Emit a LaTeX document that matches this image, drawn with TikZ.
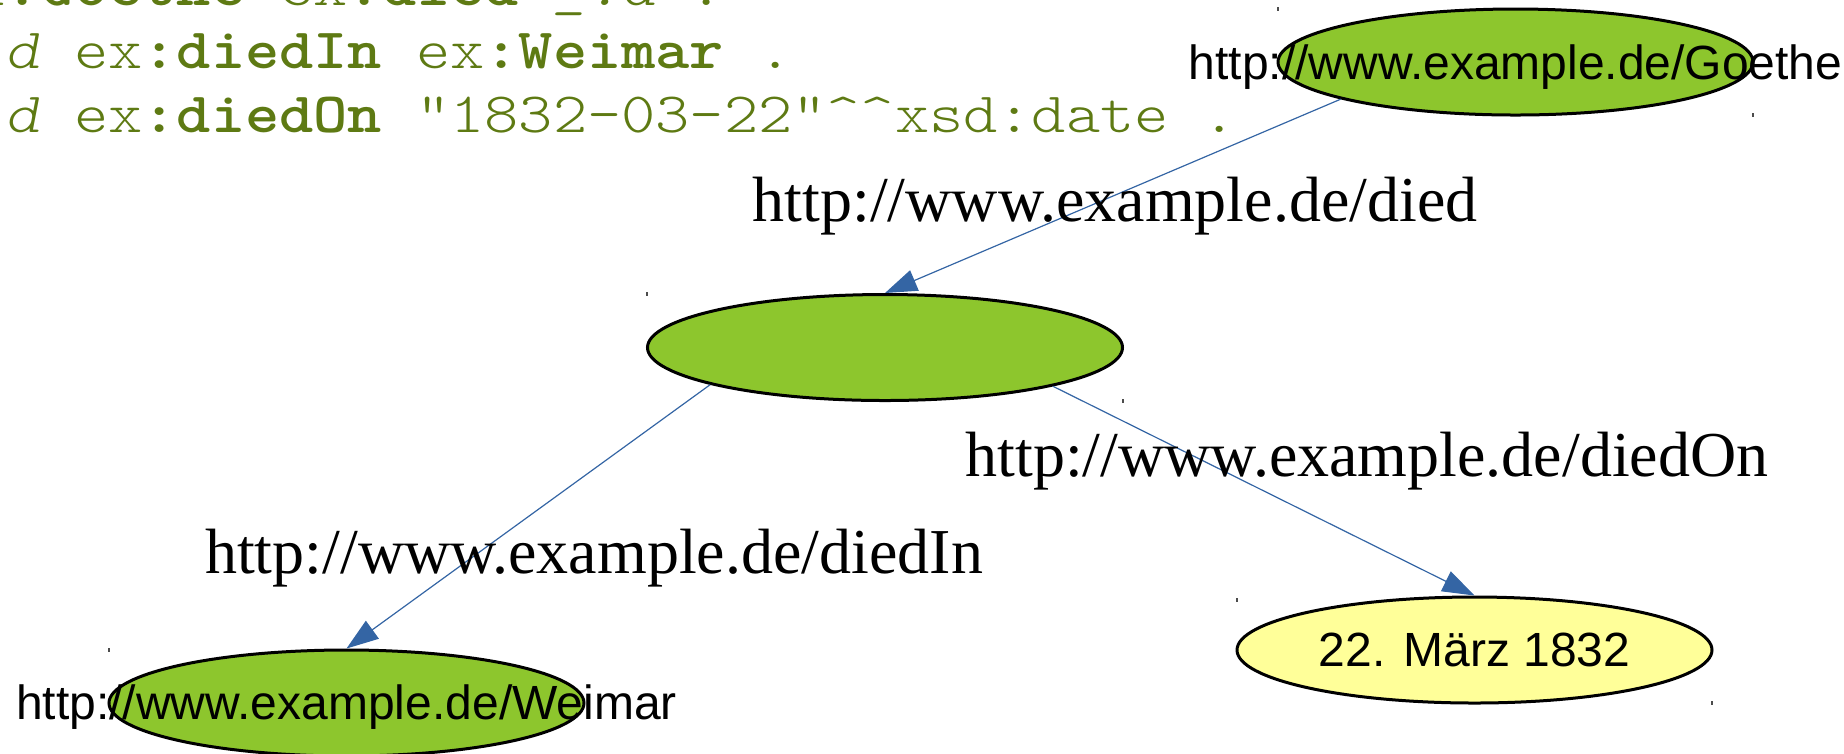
\documentclass[tikz,border=0pt]{standalone}
\usepackage{fontspec}
\setmainfont{Liberation Serif}
\newfontfamily\arialfont{Liberation Sans}
\newfontfamily\codefont{lmmonolt10-regular.otf}[BoldFont=lmmonolt10-bold.otf, ItalicFont=lmmonolt10-oblique.otf, BoldItalicFont=lmmonolt10-boldoblique.otf, FakeStretch=1.143, Ligatures=TeXOff]
\usetikzlibrary{shapes.geometric,arrows.meta}
\definecolor{nodegreen}{RGB}{141,198,45}
\definecolor{lityellow}{RGB}{255,255,153}
\definecolor{edgeblue}{RGB}{52,101,164}
\definecolor{codegreen}{RGB}{94,122,19}
\begin{document}
\begin{tikzpicture}[x=0.25pt,y=-0.25pt,
  res/.style={ellipse, draw=black, line width=0.75pt, fill=nodegreen,
    minimum width=118.75pt, minimum height=26.5pt, inner sep=0pt},
  lit/.style={res, fill=lityellow},
  nodelabel/.style={font=\arialfont\fontsize{12}{14}\selectfont, inner sep=0pt, anchor=base},
  edgelabel/.style={font=\fontsize{16}{19}\selectfont, inner sep=0pt, anchor=base},
  codeline/.style={font=\codefont\fontsize{14.25}{16}\selectfont, text=codegreen, inner sep=0pt, anchor=base west},
  link/.style={draw=edgeblue, color=edgeblue, line width=0.3pt, -{Triangle[length=8pt,width=5.5pt]}},
  speck/.style={fill=black!70}
]
\useasboundingbox (0,0) rectangle (1844,753);
\clip (0,0) rectangle (1844,753);

% code lines (partly cut off)
\node[codeline] (code1) at (-63.4,5) {ex\textbf{:Goethe} ex\textbf{:died} \textit{\_:d} .};
\node[codeline] (code2) at (-63.4,68) {\textit{\_:d} ex\textbf{:diedIn} ex\textbf{:Weimar} .};
\node[codeline] (code3) at (-63.4,132) {\textit{\_:d} ex\textbf{:diedOn} "1832-03-22"\textasciicircum\textasciicircum xsd:date .};

% ellipses
\node[res] (goethe) at (1515.5,62) {};
\node[res] (blank) at (885,347.5) {};
\node[res] (weimar) at (346.5,703) {};
\node[lit] (date) at (1474.5,650) {};

% connectors
\draw[link] (goethe.192.8) -- (blank.north);
\draw[link] (blank.192.4) -- (weimar.north);
\draw[link] (blank.347.2) -- (date.north);

% node texts
\node[nodelabel] (goethetext) at (1515.5,79) {http://www.example.de/Goethe};
\node[nodelabel] (weimartext) at (346.5,719) {http://www.example.de/Weimar};
\node[nodelabel] (datetext) at (1474.5,666) {22. März 1832};

% edge labels
\node[edgelabel] (ldied) at (1115,221) {http://www.example.de/died};
\node[edgelabel] (ldiedon) at (1367,476) {http://www.example.de/diedOn};
\node[edgelabel] (ldiedin) at (594,573) {http://www.example.de/diedIn};

% tiny handle specks
\foreach \sx/\sy in {1278/9, 1753/115, 647/294, 1123/401, 109/650, 1237/600, 1712/703}
  \fill[speck] (\sx-1,\sy-2) rectangle (\sx+1,\sy+2);
\end{tikzpicture}
\end{document}
